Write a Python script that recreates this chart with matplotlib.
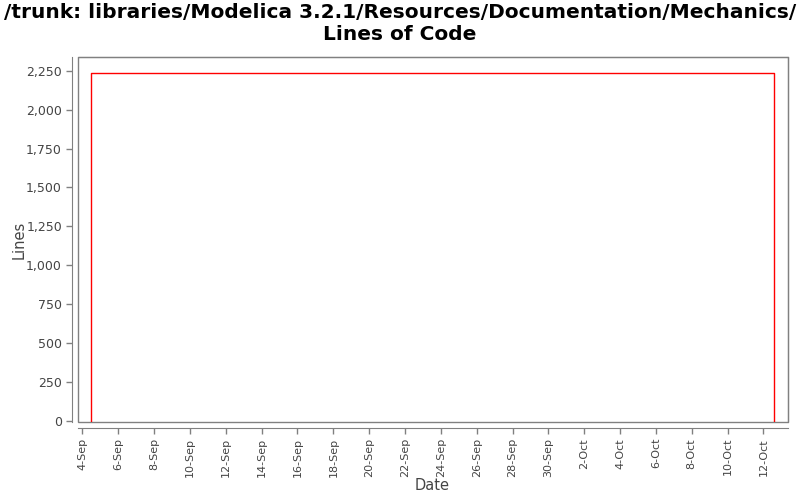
import datetime as dt
import matplotlib
matplotlib.use("Agg")
import matplotlib.pyplot as plt
import matplotlib.dates as mdates
from matplotlib.ticker import FuncFormatter, MultipleLocator
from matplotlib.patches import Rectangle

# data
dates = [dt.datetime(2013, 9, 4, 11), dt.datetime(2013, 9, 4, 11),
         dt.datetime(2013, 10, 12, 14), dt.datetime(2013, 10, 12, 14)]
lines = [0, 2233, 2233, 0]

title = "/trunk: libraries/Modelica 3.2.1/Resources/Documentation/Mechanics/\nLines of Code"
grey = "#808080"
txt = "#444444"

fig = plt.figure(figsize=(8, 5), dpi=100)
ax = fig.add_axes([0.0975, 0.156, 0.8875, 0.73])

ax.plot(dates, lines, color="red", lw=1)

ax.set_xlim(dt.datetime(2013, 9, 3, 18), dt.datetime(2013, 10, 13, 9))
ax.set_ylim(-6, 2338)

ax.xaxis.set_major_locator(mdates.DayLocator(bymonthday=range(2, 32, 2)))
ax.xaxis.set_major_formatter(FuncFormatter(
    lambda v, p: mdates.num2date(v).strftime("%d-%b").lstrip("0")))
ax.yaxis.set_major_locator(MultipleLocator(250))
ax.yaxis.set_major_formatter(FuncFormatter(lambda v, p: f"{int(v):,}"))

ax.tick_params(axis="y", colors=grey, labelcolor=txt, labelsize=9,
               length=4, width=1)
ax.tick_params(axis="x", colors=grey, labelcolor=txt, labelsize=8,
               length=4, width=1, labelrotation=90)

# axis lines offset from the plot frame
for s in ("left", "bottom"):
    ax.spines[s].set_position(("outward", 4))
    ax.spines[s].set_color(grey)
for s in ("top", "right"):
    ax.spines[s].set_color(grey)
ax.add_patch(Rectangle((0, 0), 1, 1, transform=ax.transAxes, fill=False,
                       edgecolor=grey, lw=1, clip_on=False))

fig.text(0.54, 0.03, "Date", fontsize=10.5, color=txt, ha="center", va="center")
fig.text(0.024, 0.52, "Lines", fontsize=10.5, color=txt, ha="center",
         va="center", rotation=90)

fig.suptitle(title, fontsize=14.5, fontweight="bold", y=0.993)

fig.savefig("out.png", dpi=100)
